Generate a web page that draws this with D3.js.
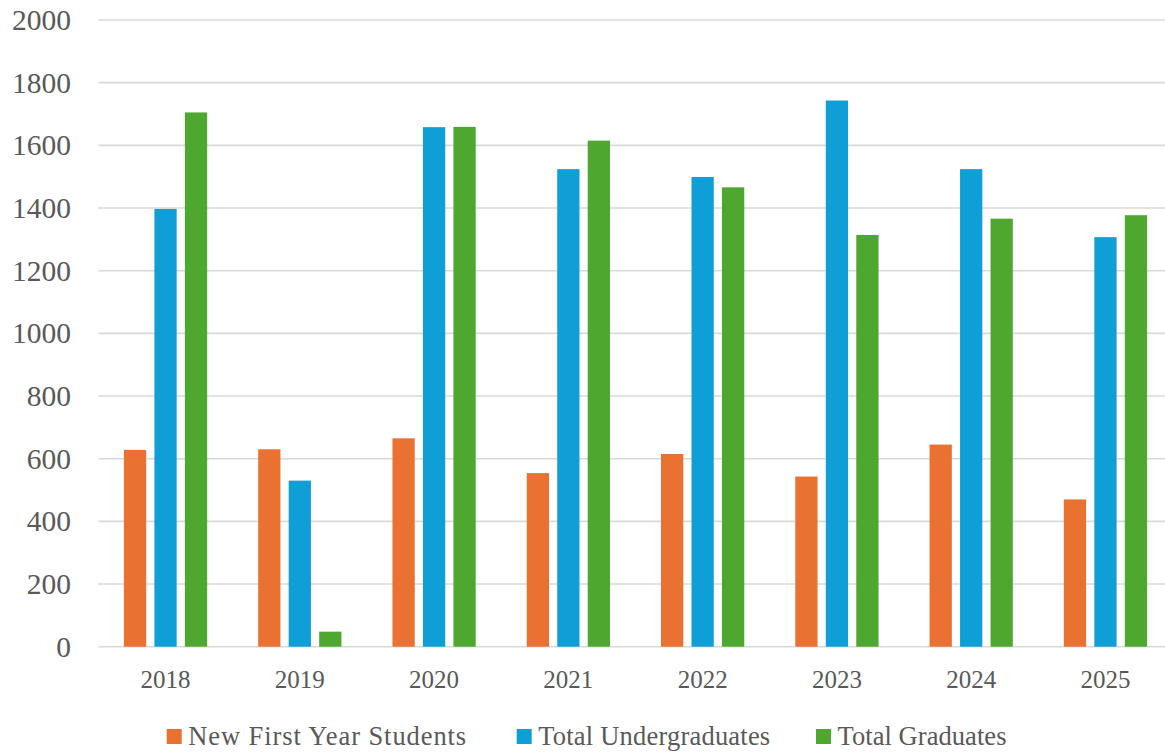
<!DOCTYPE html>
<html>
<head>
<meta charset="utf-8">
<script src="https://cdn.jsdelivr.net/npm/d3@7"></script>
<style>
  html, body { margin: 0; padding: 0; background: #fff; }
  svg { display: block; }
</style>
</head>
<body>
<svg id="chart" width="1165" height="752"></svg>
<script>
const years = ["2018", "2019", "2020", "2021", "2022", "2023", "2024", "2025"];
const seriesNames = ["New First Year Students", "Total Undergraduates", "Total Graduates"];
const newFirstYear = [628, 630, 665, 554, 615, 543, 645, 470];
const totalUndergrad = [1397, 530, 1658, 1524, 1499, 1743, 1524, 1307];
const totalGrad = [1705, 48, 1659, 1615, 1466, 1314, 1366, 1377];
const yTicks = [0, 200, 400, 600, 800, 1000, 1200, 1400, 1600, 1800, 2000];
const colors = ["#E97132", "#0F9ED5", "#4EA72E"];

const seriesValues = [newFirstYear, totalUndergrad, totalGrad];
const svg = d3.select("#chart");
const font = "'Liberation Serif', 'Times New Roman', serif";
const textColor = "#595959";

const plotLeft = 98.4, plotRight = 1172.6, plotTop = 20, plotBottom = 646.7;

const x = d3.scaleBand().domain(years).range([plotLeft, plotRight]).paddingInner(0.38).paddingOuter(0.19);
const xs = d3.scaleBand().domain(d3.range(3)).range([0, x.bandwidth()]).paddingInner(0.27).paddingOuter(0);
const y = d3.scaleLinear().domain([0, 2000]).range([plotBottom, plotTop]);

// gridlines
svg.append("g").selectAll("line").data(yTicks).join("line")
  .attr("x1", plotLeft).attr("x2", 1165)
  .attr("y1", d => y(d)).attr("y2", d => y(d))
  .attr("stroke", "#D9D9D9").attr("stroke-width", 1.6);

// y-axis labels
const yAxis = d3.axisLeft(y).tickValues(yTicks).tickSize(0).tickPadding(0).tickFormat(d3.format("d"));
const yg = svg.append("g").attr("transform", "translate(71,0)").call(yAxis);
yg.select(".domain").remove();
yg.selectAll("text").attr("font-family", font).attr("font-size", 29.5).attr("fill", textColor)
  .attr("dy", "0.32em");

// bars
const groups = svg.append("g").selectAll("g").data(years).join("g")
  .attr("transform", d => `translate(${x(d)},0)`);
groups.selectAll("rect").data((d, i) => seriesValues.map((s, k) => ({ k, v: s[i] }))).join("rect")
  .attr("x", d => xs(d.k)).attr("width", xs.bandwidth())
  .attr("y", d => y(d.v)).attr("height", d => y(0) - y(d.v))
  .attr("fill", d => colors[d.k]);

// x-axis labels
const xAxis = d3.axisBottom(x).tickSize(0).tickPadding(0);
const xg = svg.append("g").attr("transform", `translate(0,${plotBottom})`).call(xAxis);
xg.select(".domain").remove();
xg.selectAll("text").attr("font-family", font).attr("font-size", 25).attr("fill", textColor)
  .attr("dy", null).attr("y", 41);

// legend
const legendX = [166.7, 516.7, 816];
const legendTextWidth = [278, 232, 169];
const leg = svg.append("g").selectAll("g").data(seriesNames).join("g")
  .attr("transform", (d, i) => `translate(${legendX[i]},729)`);
leg.append("rect").attr("width", 15).attr("height", 15).attr("fill", (d, i) => colors[i]);
leg.append("text").attr("x", 21.5).attr("y", 16).text(d => d)
  .attr("font-family", font).attr("font-size", 26.5).attr("fill", textColor)
  .attr("textLength", (d, i) => legendTextWidth[i]).attr("lengthAdjust", "spacing");
</script>
</body>
</html>
